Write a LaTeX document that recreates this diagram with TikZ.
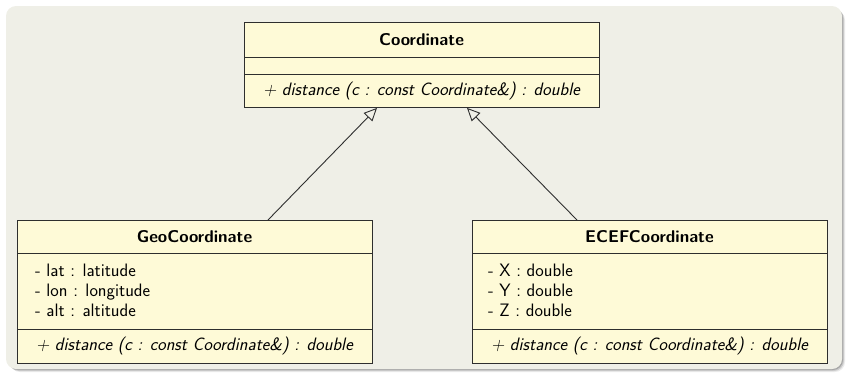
\documentclass[tikz,border=0pt]{standalone}
\usetikzlibrary{arrows.meta,calc}
\definecolor{panelbg}{HTML}{EFEFE7}
\definecolor{classfill}{HTML}{FEFAD7}
\definecolor{edge}{HTML}{2E2E2E}
\tikzset{
  classbox/.style={draw=edge, line width=0.9pt, fill=classfill, rectangle,
    anchor=north west, inner sep=0pt, minimum width=355pt},
  title/.style={font=\sffamily\bfseries\fontsize{17}{20}\selectfont, inner sep=0pt, anchor=center},
  member/.style={font=\sffamily\fontsize{18}{20}\selectfont, inner sep=0pt, anchor=base west},
  method/.style={font=\sffamily\itshape\fontsize{18}{20}\selectfont, inner sep=0pt, anchor=center},
  sep/.style={draw=edge, line width=0.9pt},
  inherit/.style={draw=edge, line width=0.9pt,
    -{Triangle[open, length=13pt, width=12pt, line width=0.9pt]}},
}
\begin{document}
\begin{tikzpicture}[x=1pt, y=-1pt]
\useasboundingbox (0,0) rectangle (849,376);
% panel with a soft shadow
\foreach \o/\c in {4/black!8, 3/black!20, 2/black!35}
  \fill[\c, rounded corners=10pt] (6+\o,6+\o) rectangle (842+\o-1,369+\o-1);
\fill[panelbg, rounded corners=10pt] (6,6) rectangle (842,369);

% base class
\node[classbox, minimum height=85pt] (coord) at (244,22) {};
\node[title] (coordT) at (421.5,40) {Coordinate};
\draw[sep] (coord.west |- 0,57) -- (coord.east |- 0,57);
\draw[sep] (coord.west |- 0,74) -- (coord.east |- 0,74);
\node[method] (coordM) at (421.5,91) {+ distance (c : const Coordinate\&) : double};

% geographic coordinate
\node[classbox, minimum height=143pt] (geo) at (17,220) {};
\node[title] (geoT) at (194.5,237) {GeoCoordinate};
\draw[sep] (geo.west |- 0,253) -- (geo.east |- 0,253);
\node[member] (geoA1) at (35,276) {- lat : latitude};
\node[member] (geoA2) at (35,296) {- lon : longitude};
\node[member] (geoA3) at (35,316) {- alt : altitude};
\draw[sep] (geo.west |- 0,329) -- (geo.east |- 0,329);
\node[method] (geoM) at (194.5,346) {+ distance (c : const Coordinate\&) : double};

% earth-centred earth-fixed coordinate
\node[classbox, minimum height=143pt] (ecef) at (472,220) {};
\node[title] (ecefT) at (649.5,237) {ECEFCoordinate};
\draw[sep] (ecef.west |- 0,253) -- (ecef.east |- 0,253);
\node[member] (ecefA1) at (488,276) {- X : double};
\node[member] (ecefA2) at (488,296) {- Y : double};
\node[member] (ecefA3) at (488,316) {- Z : double};
\draw[sep] (ecef.west |- 0,329) -- (ecef.east |- 0,329);
\node[method] (ecefM) at (649.5,346) {+ distance (c : const Coordinate\&) : double};

% generalisation
\draw[inherit] ($(geo.north west)+(251,0)$) -- ($(coord.south west)+(133,0)$);
\draw[inherit] ($(ecef.north west)+(105,0)$) -- ($(coord.south west)+(223,0)$);
\end{tikzpicture}
\end{document}
